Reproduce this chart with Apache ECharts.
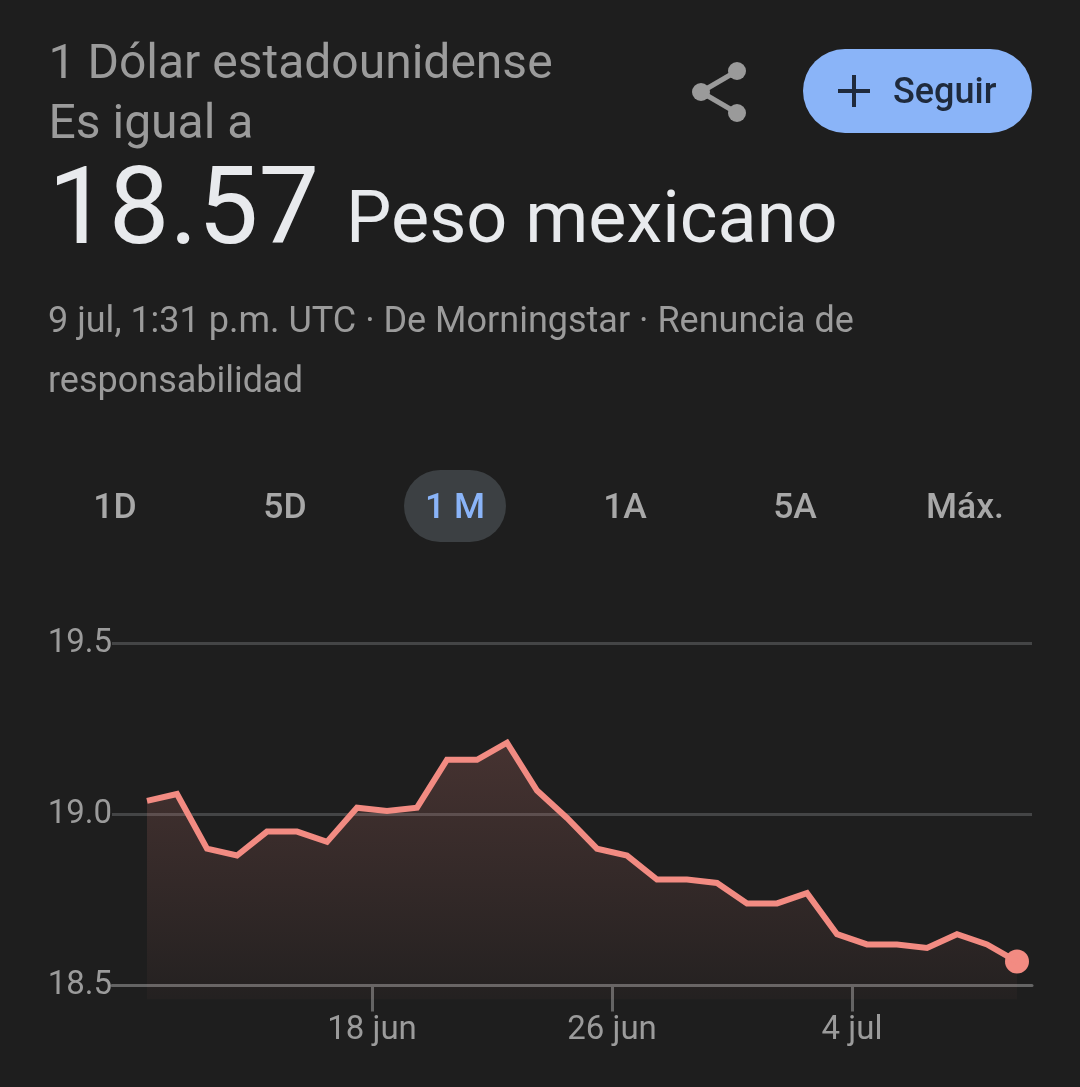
<!DOCTYPE html>
<html><head><meta charset="utf-8">
<style>html,body{margin:0;padding:0;background:#1e1e1e}#c{width:1080px;height:1087px}</style>
<script src="https://cdn.jsdelivr.net/npm/echarts@6/dist/echarts.min.js"></script>
</head><body><div id="c"></div>
<script>
const rates = [19.04,19.06,18.90,18.88,18.95,18.95,18.92,19.02,19.01,19.02,19.16,19.16,19.21,19.07,18.99,18.90,18.88,18.81,18.81,18.80,18.74,18.74,18.77,18.65,18.62,18.62,18.61,18.65,18.62,18.57];
const firstPoint = new Date(2025,5,10,12).getTime();
const DAY = 86400000;
const times = rates.map((_,i)=>firstPoint+i*DAY);
const tickDates = [new Date(2025,5,18).getTime(), new Date(2025,5,26).getTime(), new Date(2025,6,4).getTime()];
const tickLabels = ['18 jun','26 jun','4 jul'];
const yTicks = [18.5,19.0,19.5];
const tabs = ['1D','5D','1 M','1A','5A','Máx.'];
const tabCenters = [115,285,455,625,795,965];
const F = 'Roboto, sans-serif';
const grey = '#9b9b9b';

const txt = (x,y,text,size,fill,extra={}) => ({type:'text',silent:true,x,y,style:Object.assign({text,fontFamily:F,fontSize:size,fill,verticalAlign:'middle'},extra)});

const graphic = [
  txt(48.5,65.5,'1 Dólar estadounidense',48,grey),
  txt(48.5,125.5,'Es igual a',48,grey),
  txt(48,216,'18.57',108,'#e8eaed',{fontWeight:400}),
  txt(346,224,'Peso mexicano',72,'#e8eaed'),
  txt(48,323,'9 jul, 1:31 p.m. UTC · De Morningstar · Renuncia de',36,grey),
  txt(48,383,'responsabilidad',36,grey),
  // share icon
  {type:'line',silent:true,shape:{x1:701,y1:92,x2:737,y2:71},style:{stroke:'#9a9a9a',lineWidth:5}},
  {type:'line',silent:true,shape:{x1:701,y1:92,x2:737,y2:113},style:{stroke:'#9a9a9a',lineWidth:5}},
  {type:'circle',silent:true,shape:{cx:701,cy:92,r:9},style:{fill:'#9a9a9a'}},
  {type:'circle',silent:true,shape:{cx:737,cy:71,r:9},style:{fill:'#9a9a9a'}},
  {type:'circle',silent:true,shape:{cx:737,cy:113,r:9},style:{fill:'#9a9a9a'}},
  // follow button
  {type:'rect',silent:true,shape:{x:803,y:49,width:229,height:84,r:42},style:{fill:'#8ab4f8'}},
  {type:'rect',silent:true,shape:{x:838,y:89,width:32,height:4},style:{fill:'#1f2a3c'}},
  {type:'rect',silent:true,shape:{x:852,y:75,width:4,height:32},style:{fill:'#1f2a3c'}},
  txt(893,94,'Seguir',36,'#1f2a3c',{fontWeight:500}),
  // range tabs
  {type:'rect',silent:true,shape:{x:404,y:470,width:102,height:72,r:36},style:{fill:'#3c4043'}},
  ...tabs.map((t,i)=>txt(tabCenters[i],509,t,35.5,t==='1 M'?'#8ab4f8':'#a8a8a8',{fontWeight:500,align:'center'}))
];

const option = {
  backgroundColor:'#1e1e1e',
  animation:false,
  grid:{left:112,right:48,top:643.5,bottom:101.5,containLabel:false},
  xAxis:{
    type:'value',
    min:firstPoint-7*DAY/6,
    max:firstPoint+29.5*DAY,
    axisLine:{show:true,onZero:false,lineStyle:{color:'#646464',width:3}},
    axisTick:{show:true,length:26,lineStyle:{color:'#646464',width:3},customValues:tickDates},
    axisLabel:{color:'#9b9b9b',fontFamily:F,fontSize:33,margin:29,customValues:tickDates,hideOverlap:false,
      formatter:v=>tickLabels[tickDates.indexOf(+v)]||''},
    splitLine:{show:false}
  },
  yAxis:{
    type:'value',min:yTicks[0],max:yTicks[2],interval:0.5,
    axisLine:{show:false},axisTick:{show:false},
    axisLabel:{color:'#9b9b9b',fontFamily:F,fontSize:33,margin:0,padding:[4,0,0,0],formatter:v=>v.toFixed(1)},
    splitLine:{lineStyle:{color:'#444546',width:3}}
  },
  series:[
    {type:'line',clip:false,symbol:'none',
     data:times.map((t,i)=>[t,rates[i]]),
     lineStyle:{color:'#f28b82',width:6,join:'miter',cap:'butt'},
     areaStyle:{origin:18.46,color:{type:'linear',x:0,y:0,x2:0,y2:1,colorStops:[{offset:0,color:'rgba(242,139,130,0.27)'},{offset:1,color:'rgba(242,139,130,0.04)'}]}}},
    {type:'scatter',clip:false,symbol:'circle',symbolSize:24,
     data:[[times[times.length-1],rates[rates.length-1]]],
     itemStyle:{color:'#f28b82',opacity:1}}
  ],
  graphic
};
echarts.init(document.getElementById('c')).setOption(option);
</script></body></html>
